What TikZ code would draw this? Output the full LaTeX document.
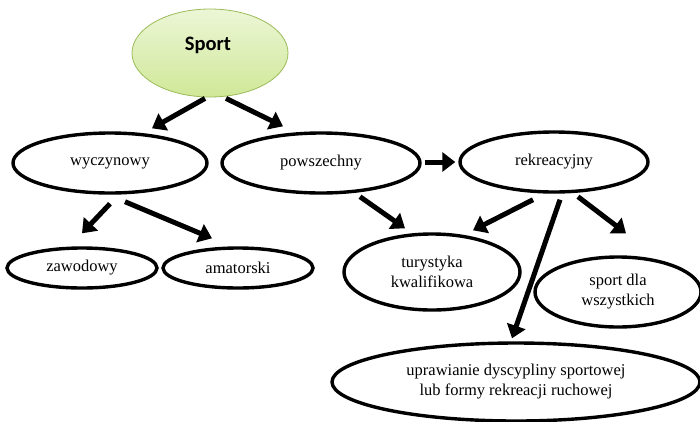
\documentclass[tikz,border=0pt]{standalone}
\usepackage{fontspec}
\setmainfont{Liberation Serif}
\newfontfamily\carlito{Carlito}
\usetikzlibrary{shapes.geometric,arrows.meta}
\begin{document}
\begin{tikzpicture}[x=1pt,y=-1pt,
  oval/.style={ellipse,draw=black,line width=3.4pt,inner sep=0pt,align=center,
    font=\fontsize{16.5}{20}\selectfont},
  arr/.style={line width=5pt,-{Triangle[length=13pt,width=19pt]}}]
\useasboundingbox (0,0) rectangle (700,421);
\node[ellipse,draw={rgb,255:red,155;green,187;blue,89},line width=0.8pt,
  top color={rgb,255:red,236;green,246;blue,214},
  bottom color={rgb,255:red,208;green,232;blue,152},
  minimum width=156pt,minimum height=88pt,inner sep=0pt] (sport) at (210,53) {};
\node[font=\carlito\bfseries\fontsize{20.5}{24}\selectfont] (sportt) at (208,45) {Sport};
\node[oval,minimum width=194pt,minimum height=60pt] (wy) at (110,163) {wyczynowy};
\node[oval,minimum width=198pt,minimum height=60pt] (pow) at (321,163) {powszechny};
\node[oval,minimum width=188pt,minimum height=60pt] (rek) at (554,162) {rekreacyjny};
\node[oval,minimum width=150pt,minimum height=40pt] (zaw) at (82,268) {zawodowy};
\node[oval,minimum width=150pt,minimum height=40pt] (ama) at (238,268) {amatorski};
\node[oval,minimum width=176pt,minimum height=76pt] (tur) at (432,272) {turystyka\\kwalifikowa};
\node[oval,minimum width=166pt,minimum height=70pt] (sdw) at (618,292) {sport dla\\wszystkich};
\node[oval,minimum width=368pt,minimum height=78pt] (upr) at (516,382) {uprawianie dyscypliny sportowej\\lub formy rekreacji ruchowej};
\draw[arr] ([xshift=-5pt,yshift=-1pt]sport.south) -- ([xshift=42pt,yshift=3pt]wy.north);
\draw[arr] ([xshift=16pt,yshift=-1pt]sport.south) -- ([xshift=-38pt,yshift=5pt]pow.north);
\draw[arr] ([xshift=0pt,yshift=-9pt]wy.south) -- ([xshift=0pt,yshift=13pt]zaw.north);
\draw[arr] ([xshift=15pt,yshift=-7pt]wy.south) -- ([xshift=-26pt,yshift=8pt]ama.north);
\draw[arr] ([xshift=3pt,yshift=1pt]pow.east) -- ([xshift=-3pt]rek.west);
\draw[arr] ([xshift=39pt,yshift=-2pt]pow.south) -- ([xshift=-27pt,yshift=4pt]tur.north);
\draw[arr] ([xshift=-21pt,yshift=-6pt]rek.south) -- ([xshift=41pt,yshift=2pt]tur.north);
\draw[arr] ([xshift=6pt,yshift=-6pt]rek.south) -- ([xshift=-4pt,yshift=3pt]upr.north);
\draw[arr] ([xshift=24pt,yshift=-3pt]rek.south) -- ([xshift=8pt,yshift=22pt]sdw.north);
\end{tikzpicture}
\end{document}
